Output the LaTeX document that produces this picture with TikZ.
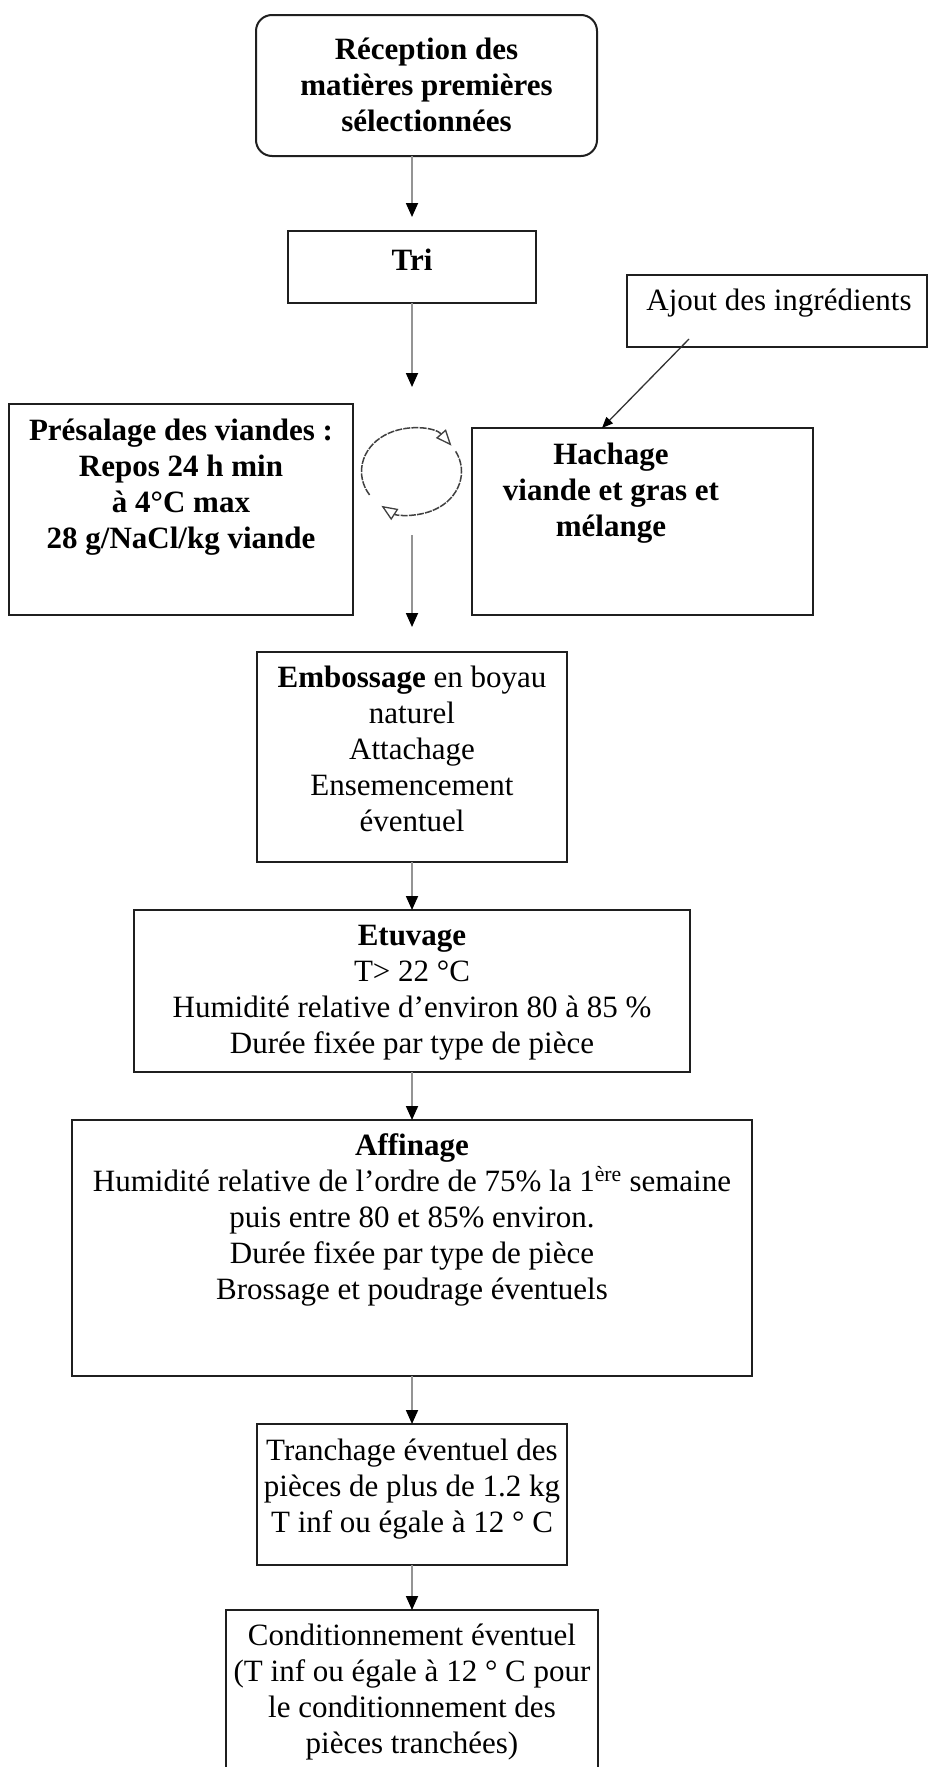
\documentclass[tikz,border=0pt]{standalone}
\usepackage{fontspec}
\setmainfont{Liberation Serif}
\usetikzlibrary{arrows.meta}
\newcommand{\fls}{\rule{0pt}{26pt}}
\tikzset{
  box/.style={draw=black!88, line width=2pt, inner sep=0pt, outer sep=0pt, fill=white},
  txt/.style={inner sep=0pt, outer sep=0pt, align=center, anchor=north, font=\fontsize{31}{36}\selectfont},
  flow/.style={draw=black!42, line width=1.8pt, -{Triangle[length=14pt,width=12pt,color=black]}},
  thinflow/.style={draw=black!80, line width=1.3pt, -{Triangle[length=11pt,width=9pt,color=black]}},
  cyc/.style={draw=black!75, line width=1.5pt, dash pattern=on 7pt off 1.2pt, -{Triangle[open,length=16pt,width=13pt,line width=1.3pt,color=black!75]}},
}
\begin{document}
\begin{tikzpicture}[x=1pt,y=1pt]
\useasboundingbox (0,0) rectangle (929,-1767);
\clip (0,0) rectangle (929,-1767);
\fill[white] (0,0) rectangle (929,-1767);

% boxes
\node[box, rounded corners=16pt, minimum width=341pt, minimum height=141pt] (top) at (426.5,-85.5) {};
\node[box, minimum width=248pt, minimum height=72pt] (tri) at (412,-267) {};
\node[box, minimum width=300pt, minimum height=72pt] (ajout) at (777,-311) {};
\node[box, minimum width=344pt, minimum height=211pt] (pres) at (181,-509.5) {};
\node[box, minimum width=341pt, minimum height=187pt] (hach) at (642.5,-521.5) {};
\node[box, minimum width=310pt, minimum height=210pt] (emb) at (412,-757) {};
\node[box, minimum width=556pt, minimum height=162pt] (etu) at (412,-991) {};
\node[box, minimum width=680pt, minimum height=256pt] (aff) at (412,-1248) {};
\node[box, minimum width=310pt, minimum height=141pt] (tra) at (412,-1494.5) {};
\node[box, minimum width=372pt, minimum height=190pt] (cond) at (412,-1705) {};

% texts
\node[txt, font=\fontsize{31}{36}\selectfont\bfseries] (topT) at (426.5,-33) {\fls R\'eception des\\mati\`eres premi\`eres\\s\'electionn\'ees};
\node[txt, font=\fontsize{31}{36}\selectfont\bfseries] (triT) at (412,-244) {\fls Tri};
\node[txt] (ajoutT) at (779,-284) {\fls Ajout des ingr\'edients};
\node[txt, font=\fontsize{31}{36}\selectfont\bfseries] (presT) at (181,-414) {\fls Pr\'esalage des viandes :\\Repos 24 h min\\à 4°C max\\28 g/NaCl/kg viande};
\node[txt, font=\fontsize{31}{36}\selectfont\bfseries] (hachT) at (611,-438) {\fls Hachage\\viande et gras et\\m\'elange};
\node[txt] (embT) at (412,-661) {\fls\textbf{Embossage} en boyau\\naturel\\Attachage\\Ensemencement\\\'eventuel};
\node[txt] (etuT) at (412,-919) {\fls\textbf{Etuvage}\\T> 22 °C\\Humidit\'e relative d’environ 80 à 85 \%\\Dur\'ee fix\'ee par type de pi\`ece};
\node[txt] (affT) at (412,-1129) {\fls\textbf{Affinage}\\Humidit\'e relative de l’ordre de 75\% la 1\textsuperscript{\`ere} semaine\\puis entre 80 et 85\% environ.\\Dur\'ee fix\'ee par type de pi\`ece\\Brossage et poudrage \'eventuels};
\node[txt] (traT) at (412,-1434) {\fls Tranchage \'eventuel des\\pi\`eces de plus de 1.2 kg\\T inf ou \'egale à 12 ° C};
\node[txt] (condT) at (412,-1619) {\fls Conditionnement \'eventuel\\(T inf ou \'egale à 12 ° C pour\\le conditionnement des\\pi\`eces tranch\'ees)};

% connectors
\coordinate (c1) at (412,-387);
\coordinate (c2) at (412,-535);
\coordinate (a1) at (689,-339);
\coordinate (a2) at (602,-428);
\coordinate (cy) at (411.5,-471.5);

\draw[flow, shorten >=14pt] (tri.north |- top.south) -- (tri.north);
\draw[flow] (tri) -- (c1);
\draw[flow, shorten >=25pt] (c2) -- (emb.north);
\draw[flow] (emb) -- (etu);
\draw[flow] (etu) -- (aff);
\draw[flow] (aff) -- (tra);
\draw[flow] (tra) -- (cond);
\draw[thinflow] (a1) -- (a2);

% cycle symbol
\draw[cyc] (cy) ++(213:50pt and 43pt) arc[start angle=213, end angle=37, x radius=50pt, y radius=43pt];
\draw[cyc] (cy) ++(28:50pt and 43pt) arc[start angle=28, end angle=-127, x radius=50pt, y radius=43pt];
\end{tikzpicture}
\end{document}
